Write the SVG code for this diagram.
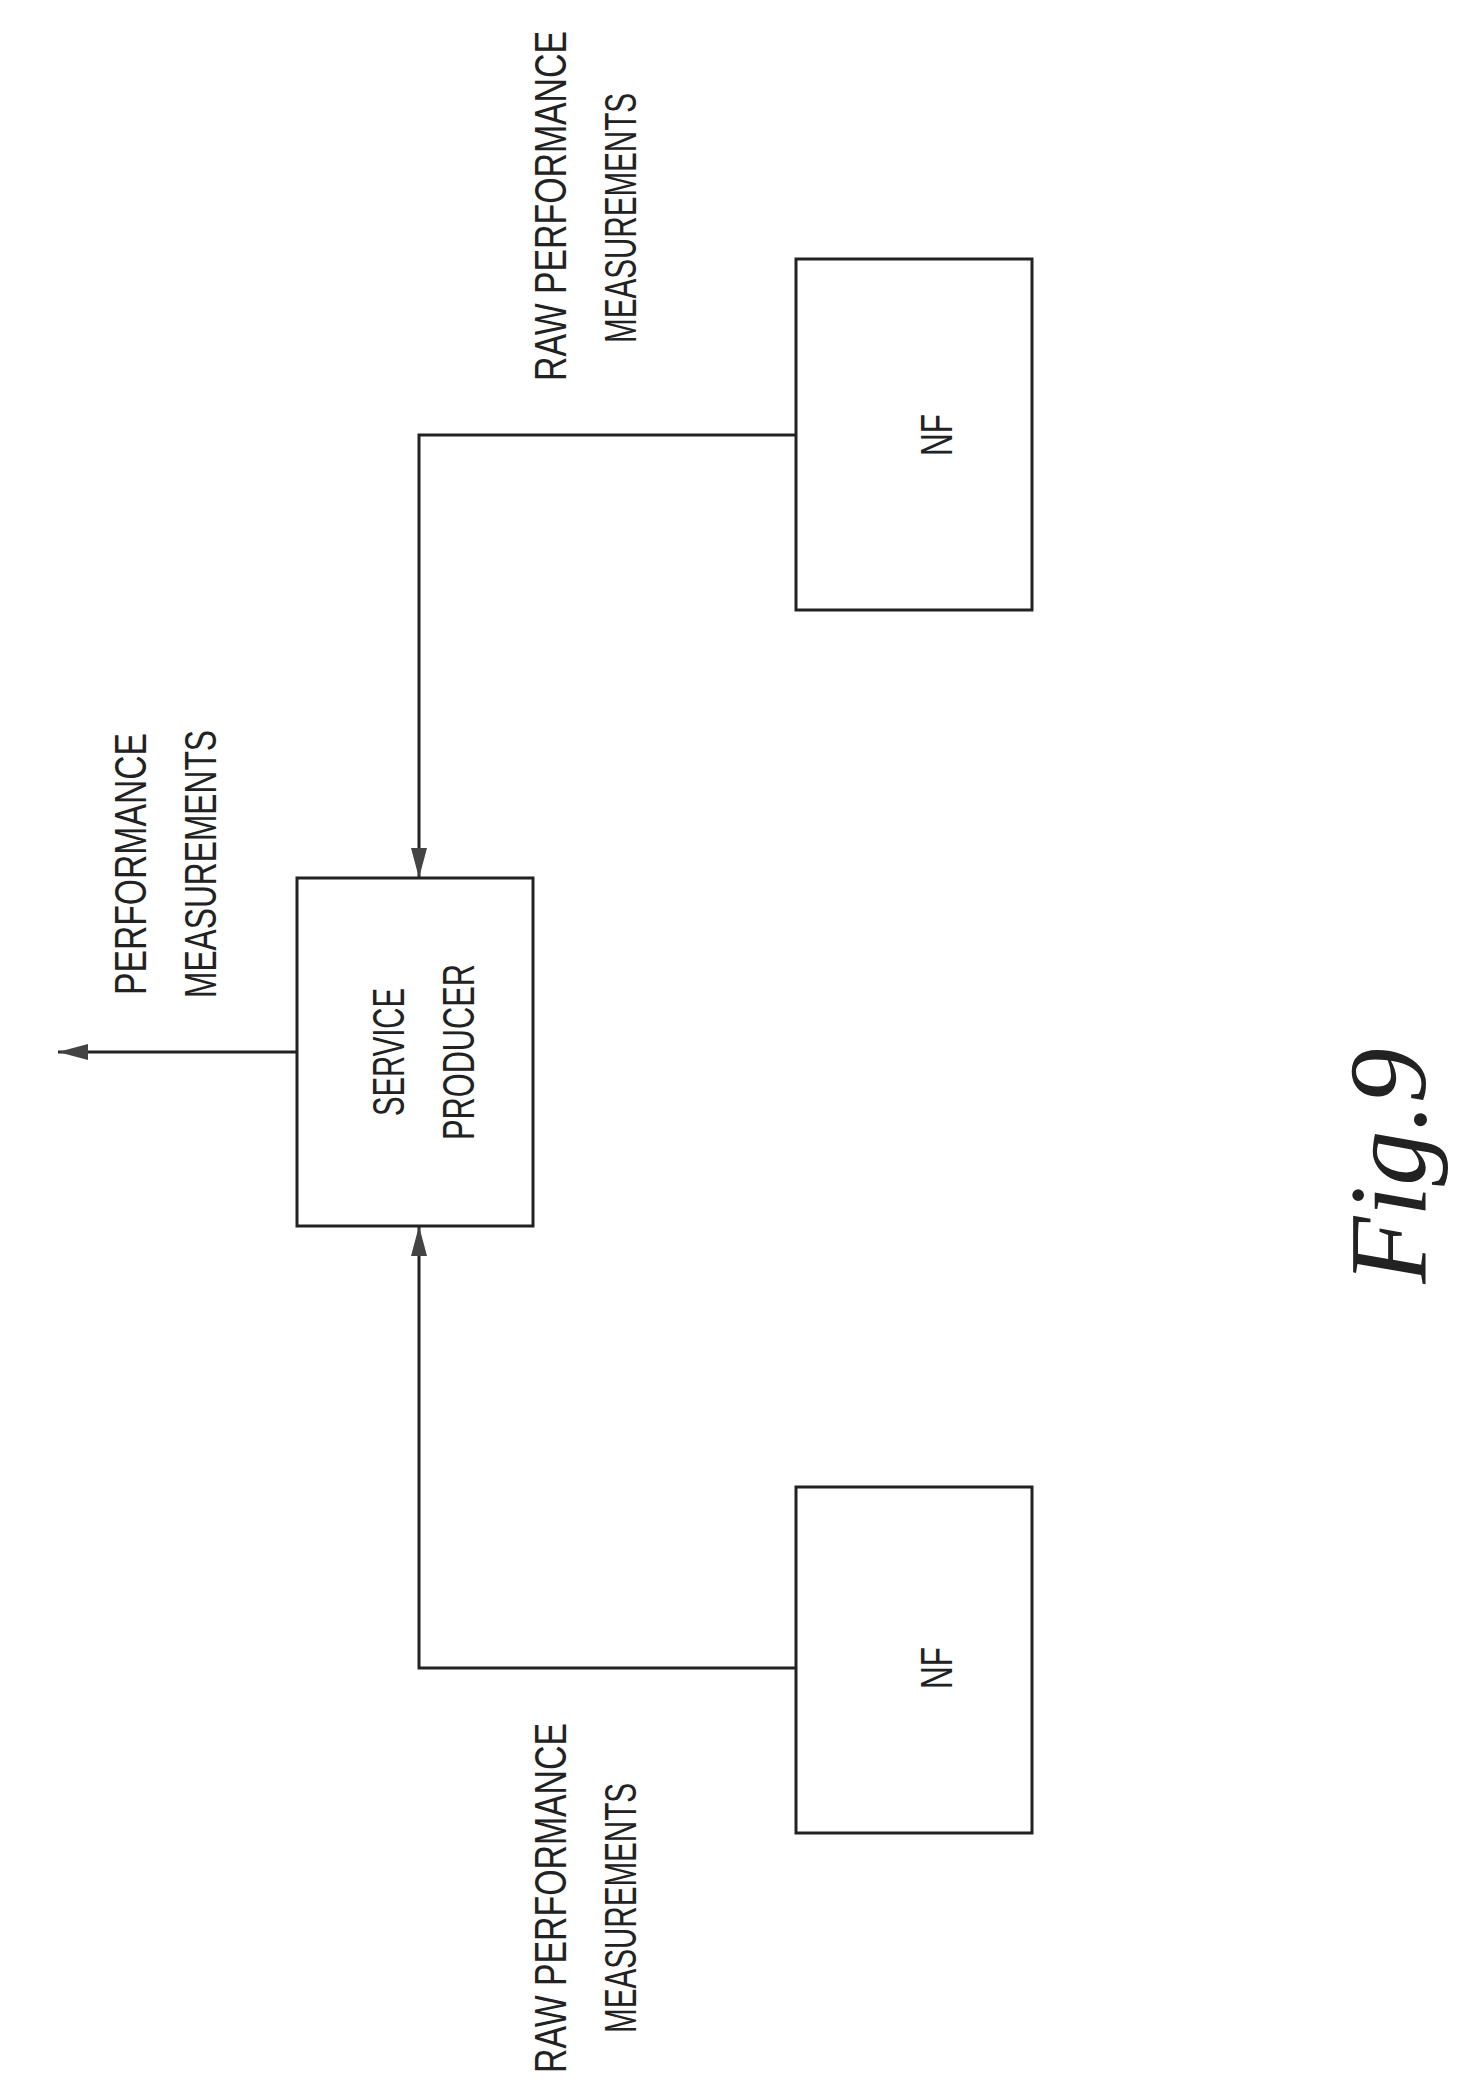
<svg xmlns="http://www.w3.org/2000/svg" width="1474" height="2082" viewBox="0 0 1474 2082">
<style>
.box{fill:#fff;stroke:#222;stroke-width:3}
.ln{fill:none;stroke:#222;stroke-width:3}
.t{font-family:"Liberation Sans",sans-serif;font-size:44px;fill:#222;text-anchor:middle}
</style>
<defs>
<marker id="a" viewBox="0 0 30 16" refX="30" refY="8" markerWidth="30" markerHeight="16" orient="auto" markerUnits="userSpaceOnUse"><path d="M0,0 L30,8 L0,16 z" fill="#444"/></marker>
</defs>
<rect width="1474" height="2082" fill="#fff"/>
<g id="connectors">
<path class="ln" d="M796,435 H419 V878" marker-end="url(#a)"/>
<path class="ln" d="M796,1668 H419 V1226" marker-end="url(#a)"/>
<path class="ln" d="M297,1052 H58" marker-end="url(#a)"/>
</g>
<g id="nf-top">
<rect class="box" x="796" y="259" width="236" height="351"/>
<text class="t" transform="translate(952,435) rotate(-90)" textLength="42" lengthAdjust="spacingAndGlyphs">NF</text>
</g>
<g id="service-producer">
<rect class="box" x="297" y="878" width="236" height="348"/>
<text class="t" transform="translate(404,1052) rotate(-90)" textLength="128" lengthAdjust="spacingAndGlyphs">SERVICE</text>
<text class="t" transform="translate(474,1052) rotate(-90)" textLength="176" lengthAdjust="spacingAndGlyphs">PRODUCER</text>
</g>
<g id="nf-bottom">
<rect class="box" x="796" y="1487" width="236" height="346"/>
<text class="t" transform="translate(952,1668) rotate(-90)" textLength="42" lengthAdjust="spacingAndGlyphs">NF</text>
</g>
<g id="labels">
<text class="t" transform="translate(146,864) rotate(-90)" textLength="262" lengthAdjust="spacingAndGlyphs">PERFORMANCE</text>
<text class="t" transform="translate(216,864) rotate(-90)" textLength="268" lengthAdjust="spacingAndGlyphs">MEASUREMENTS</text>
<text class="t" transform="translate(566,206) rotate(-90)" textLength="350" lengthAdjust="spacingAndGlyphs">RAW  PERFORMANCE</text>
<text class="t" transform="translate(636,218) rotate(-90)" textLength="250" lengthAdjust="spacingAndGlyphs">MEASUREMENTS</text>
<text class="t" transform="translate(566,1898) rotate(-90)" textLength="350" lengthAdjust="spacingAndGlyphs">RAW  PERFORMANCE</text>
<text class="t" transform="translate(636,1908) rotate(-90)" textLength="250" lengthAdjust="spacingAndGlyphs">MEASUREMENTS</text>
<text transform="translate(1425,1166) rotate(-90)" style="font-family:'Liberation Serif',serif;font-style:italic;font-size:110px;fill:#222;text-anchor:middle">Fig.9</text>
</g>
</svg>
